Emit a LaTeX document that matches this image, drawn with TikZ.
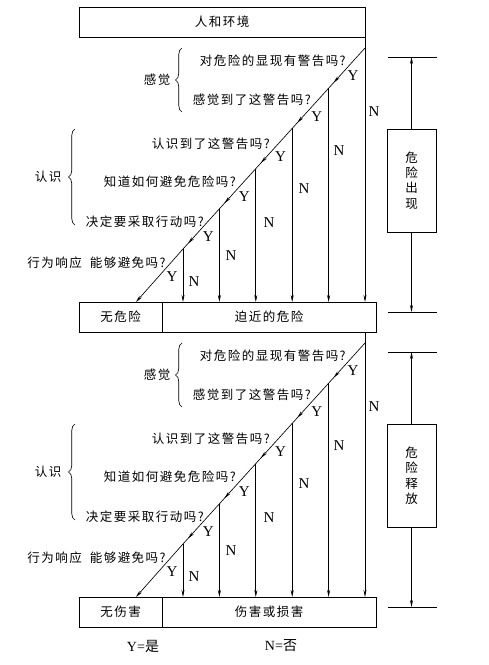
\documentclass[tikz,border=0pt]{standalone}
\usepackage{fontspec}
\setmainfont{Liberation Serif}
\newfontfamily\cjk[LetterSpace=12]{Noto Sans CJK SC}
\newfontfamily\cjkn{Noto Sans CJK SC}
\usetikzlibrary{arrows.meta,decorations.pathreplacing,decorations.markings,calc}
\begin{document}
\begin{tikzpicture}[x=1pt,y=-1pt,
  line width=0.65pt,
  tip/.tip={Stealth[length=7pt,width=3pt]},
  arr/.style={-tip},
  midarr/.style={postaction={decorate},decoration={markings,mark=at position 0.86 with {\arrow{tip}}}},
  boxn/.style={draw,line width=0.85pt,inner sep=0pt,minimum height=30pt,font=\cjk\fontsize{12.5}{14}\selectfont},
  sidebox/.style={draw,line width=0.85pt,inner sep=0pt,minimum width=49pt,minimum height=103pt,align=center,font=\cjkn\fontsize{12.5}{15.5}\selectfont},
  q/.style={inner sep=0pt,anchor=east,font=\cjk\fontsize{12.5}{14}\selectfont},
  lab/.style={inner sep=0pt,font=\cjk\fontsize{12.5}{14}\selectfont},
  yn/.style={inner sep=0pt,font=\fontsize{15}{16}\selectfont},
  brc/.style={decorate,decoration={brace,amplitude=6.5pt},line width=0.65pt}
]
\useasboundingbox (0,0) rectangle (489,665);

\node[boxn,minimum width=286pt] (top) at (222,22) {人和环境};
\node[boxn,minimum width=83pt] (safe1) at (120.5,317) {无危险};
\node[boxn,minimum width=214pt] (dang1) at (269,317) {迫近的危险};
\node[boxn,minimum width=83pt] (safe2) at (120.5,612) {无伤害};
\node[boxn,minimum width=214pt] (dang2) at (269,612) {伤害或损害};

\node[sidebox] (side1) at (411.5,180.5) {危\\险\\出\\现};
\node[sidebox] (side2) at (411.5,475.5) {危\\险\\释\\放};

\foreach \s/\o in {1/0,2/295}{
  \foreach \k in {0,...,5}{
    \coordinate (P\s-\k) at ({365-36.4*\k},{48+\o+40.2*\k});
    \coordinate (B\s-\k) at ({365-36.4*\k},{302+\o});
  }
  \coordinate (E\s) at (136,{302+\o});
  \coordinate (T\s) at (365,{37+\o});
  % main vertical
  \draw[arr] (T\s) -- (B\s-0);
  % diagonal
  \foreach \k [evaluate=\k as \n using int(\k+1)] in {0,...,4}{
    \draw[midarr] (P\s-\k) -- (P\s-\n);
  }
  \draw[arr] (P\s-5) -- (E\s);
  % drops
  \foreach \k in {1,...,5}{
    \draw[arr] (P\s-\k) -- (B\s-\k);
  }
  % Y labels
  \foreach \k in {0,...,5}{
    \node[yn] (Y\s-\k) at ({353-36.2*\k},{76+\o+40.2*\k}) {Y};
  }
  % N labels
  \foreach \k/\xx/\yy in {0/374/112,1/339/151,2/304/189,3/269/223,4/231/256,5/194/282}{
    \node[yn] (N\s-\k) at (\xx,{\yy+\o}) {N};
  }
  % questions
  \node[q] (q\s-1) at (346,{61+\o}) {对危险的显现有警告吗?};
  \node[q] (q\s-2) at (311,{100+\o}) {感觉到了这警告吗?};
  \node[q] (q\s-3) at (270,{144+\o}) {认识到了这警告吗?};
  \node[q] (q\s-4) at (236,{182+\o}) {知道如何避免危险吗?};
  \node[q] (q\s-5) at (204,{222+\o}) {决定要采取行动吗?};
  \node[q] (q\s-6) at (166,{263+\o}) {行为响应\hspace{8pt}能够避免吗?};
  % braces
  \draw[brc] (182,{112+\o}) -- (182,{48+\o});
  \draw[brc] (75,{225+\o}) -- (75,{129+\o});
  \node[lab] (g\s) at (157,{80+\o}) {感觉};
  \node[lab] (r\s) at (48,{177+\o}) {认识};
  % side arrows
  \coordinate (U\s) at (411.5,{57+\o});
  \coordinate (D\s) at (411.5,{312+\o});
  \draw[arr] (side\s.north) -- (U\s);
  \draw[arr] (side\s.south) -- (D\s);
  \draw (388,{57+\o}) -- (437,{57+\o});
  \draw (388,{312+\o}) -- (437,{312+\o});
}

\node[inner sep=0pt] (legY) at (143,646) {\fontsize{14}{15}\selectfont Y=\cjkn 是};
\node[inner sep=0pt] (legN) at (281,646) {\fontsize{14}{15}\selectfont N=\cjkn 否};
\end{tikzpicture}
\end{document}
